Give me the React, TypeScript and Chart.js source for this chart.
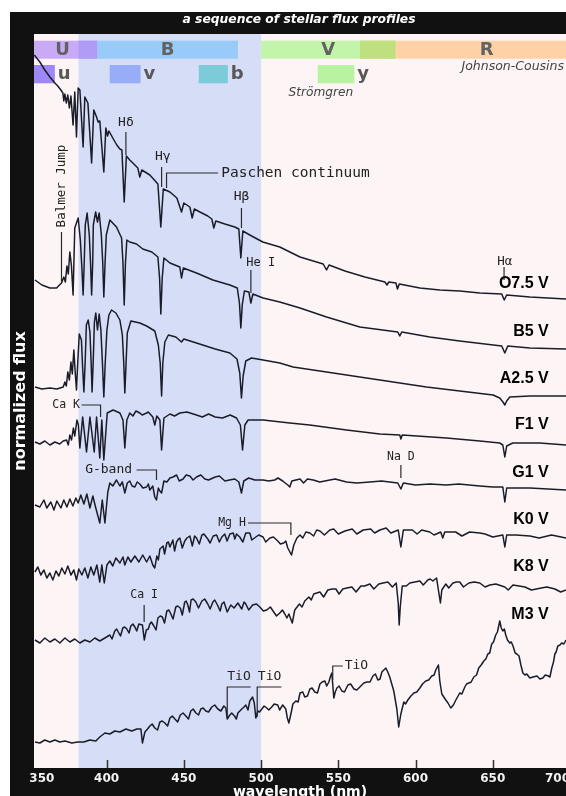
import React, { useEffect, useRef } from "react";
import { Chart, registerables } from "chart.js";

Chart.register(...registerables);

type Pt = [number, number];

// ---------------- data ----------------
const X_TICKS = [350, 400, 450, 500, 550, 600, 650, 700];
const STAR_NAMES = ["O7.5 V", "B5 V", "A2.5 V", "F1 V", "G1 V", "K0 V", "K8 V", "M3 V"];
const STAR_LABEL_LEVEL = [48.4, 43.6, 38.9, 34.3, 29.5, 24.8, 20.1, 15.3];

const O75_V: Pt[] = [
  [353.2, 71.3], [356.8, 70.6], [360, 69.8], [363.3, 69.1], [366.5, 68.5], [368.4, 68.2], [370.4, 67.8],
  [371.7, 67.5], [372.3, 66.7], [373, 67.4], [373.9, 66.5], [374.9, 67.3], [375.9, 66.0], [376.9, 67.2],
  [378.3, 64.3], [379.4, 67.6], [380.5, 63.1], [381.6, 68.0], [382.7, 67.8], [384.8, 62.1], [385.9, 67.1],
  [387.9, 66.5], [390.3, 60.5], [391.7, 65.8], [393.5, 65.1], [394.5, 64.6], [395.6, 64.7], [398.2, 59.6],
  [399.5, 64.0], [400.6, 63.2], [401.5, 63.7], [404, 63.0], [406.6, 62.3], [408.6, 61.9], [409.9, 61.8],
  [411.4, 56.6], [412.8, 61.2], [415, 60.8], [418.3, 60.3], [420.2, 60.0], [421.5, 59.1], [422.8, 59.8],
  [428, 59.3], [433.2, 58.4], [435.1, 54.1], [436.7, 57.9], [441, 57.6], [445.5, 57.0], [448.5, 55.6],
  [450, 56.5], [453.9, 56.1], [455.4, 55.0], [456.8, 55.9], [460.4, 55.6], [465.5, 55.2], [468.1, 54.9],
  [469.4, 54.0], [470.7, 54.7], [476.6, 54.4], [483, 54.1], [485.6, 53.9], [486.9, 51.0], [488.2, 53.7],
  [492.7, 53.3], [501.1, 52.6], [512.1, 52.1], [525.2, 51.1], [540.2, 50.4], [542.4, 49.8], [544, 50.3],
  [554.3, 49.7], [567.2, 49.1], [580.2, 48.6], [581.5, 48.3], [582.7, 48.6], [587.3, 48.5], [588.3, 47.9],
  [589.5, 48.4], [602.8, 48.0], [615.7, 47.8], [628.6, 47.7], [641.6, 47.5], [655.8, 47.4], [657.4, 46.8],
  [659, 47.3], [674, 47.1], [697.4, 46.9],
];

const B5_V: Pt[] = [
  [353.6, 48.8], [358.1, 48.3], [363.3, 48.0], [367.6, 48.0], [370.8, 48.5], [372.3, 49.1], [373.3, 48.6],
  [374.3, 50.2], [375.2, 49.4], [376.2, 51.6], [377.2, 50.3], [378.3, 47.3], [379.4, 54.0], [381.6, 55.0],
  [383, 52.8], [384, 50.0], [384.8, 47.3], [385.5, 50.5], [386.2, 54.3], [387.4, 55.5], [388.8, 53.3], [389.6, 50.5],
  [390.3, 47.3], [391, 50.5], [391.4, 54.3], [392.9, 55.6], [394.1, 54.6], [395.2, 55.5], [396.6, 53.3], [397.5, 50.5],
  [398.2, 47.1], [399, 50.5], [399.8, 53.3], [402.1, 54.8], [406.4, 54.1], [409.7, 53.0], [410.6, 50.5],
  [411.4, 46.3], [412.2, 50.5], [413.1, 52.8], [415, 52.6], [419.4, 52.4], [423.4, 51.9], [429.3, 51.6],
  [433.2, 51.1], [434.3, 49.0], [435.1, 45.4], [436, 49.0], [437.1, 51.0], [441, 50.5], [447.4, 50.1],
  [448.5, 49.0], [449.7, 50.0], [458.2, 49.5], [468.8, 48.8], [479.8, 48.3], [484.6, 48.0], [486, 46.5],
  [486.9, 44.0], [487.8, 46.3], [489.2, 47.7], [492.1, 47.6], [493.4, 46.5], [494.7, 47.4], [501.3, 47.0],
  [512.1, 46.6], [525.2, 46.0], [542.4, 45.1], [563.9, 44.1], [588.5, 43.6], [589.8, 43.2], [591.1, 43.6],
  [609.2, 43.1], [628.6, 42.7], [655.8, 42.2], [657.8, 41.5], [659.7, 42.2], [674, 42.0], [697.4, 41.9],
];

const A25_V: Pt[] = [
  [353.6, 38.1], [358.1, 37.9], [363.3, 38.0], [367.8, 37.9], [371.9, 38.1], [373, 38.6], [373.9, 38.2],
  [374.9, 39.6], [375.9, 38.8], [376.9, 40.6], [377.8, 39.4], [378.8, 41.8], [379.7, 39.5], [380.5, 37.8],
  [381.3, 40.5], [382.3, 43.4], [383.7, 42.8], [384.5, 40.0], [385.3, 37.6], [386.1, 40.5], [386.9, 44.3],
  [388.1, 44.8], [389.2, 43.6], [390, 40.5], [390.6, 37.6], [391.3, 40.5], [392.1, 44.6], [393, 45.5],
  [394.1, 43.8], [395.2, 45.4], [396.3, 43.8], [397.3, 40.5], [398.2, 37.1], [399.1, 40.5], [400.2, 43.8],
  [401.5, 45.3], [403.2, 45.8], [406, 45.5], [408.6, 44.8], [410.2, 43.3], [411.1, 40.5], [411.8, 37.5],
  [412.6, 40.5], [413.4, 43.5], [415.7, 44.7], [421.5, 44.5], [425.9, 44.2], [431.2, 43.7], [433.5, 42.3],
  [434.7, 40.5], [435.6, 37.2], [436.4, 40.5], [437.7, 42.6], [440, 43.3], [444.8, 43.1], [448.5, 42.6],
  [450, 42.9], [458.2, 42.5], [470.3, 41.9], [479.8, 41.5], [484.4, 40.9], [486.2, 39.5], [487.3, 37.0],
  [488.4, 39.2], [490.1, 40.7], [493.8, 41.0], [501.3, 40.8], [512.1, 40.5], [520.7, 40.1], [542.4, 39.6],
  [563.9, 39.1], [585.5, 38.6], [607.1, 38.1], [628.6, 37.7], [650.2, 37.3], [654.5, 37.0], [656.6, 36.6],
  [657.8, 36.3], [659, 36.7], [661, 37.1], [674, 37.2], [697.4, 37.2],
];

const F1_V: Pt[] = [
  [353.6, 32.6], [356.8, 32.4], [360, 32.7], [363.3, 32.3], [366.5, 32.6], [369.7, 32.4], [371.9, 32.7],
  [374.1, 32.8], [375.2, 32.3], [376.2, 33.3], [377.3, 32.8], [378.5, 34.0], [379.4, 33.2], [380.8, 34.8],
  [381.7, 34.3], [382.7, 32.0], [384.5, 35.1], [387.0, 31.6], [389.2, 35.1], [392, 31.6], [393.5, 35.1],
  [395.6, 31.0], [396.9, 34.8], [398.2, 30.8], [400.4, 35.5], [404.2, 35.8], [408.6, 35.5], [410.6, 34.8],
  [411.8, 32.0], [413.1, 34.8], [415, 35.5], [417, 35.2], [419, 35.7], [421.5, 35.5], [423, 35.3], [425.9, 35.5],
  [427, 35.6], [429.9, 35.1], [431.2, 34.3], [432.5, 35.2], [434.5, 34.8], [435.6, 31.8], [437.1, 35.0],
  [441, 35.4], [444, 35.2], [447.4, 35.5], [452, 35.6], [458.2, 35.3], [462, 35.1], [466, 35.4], [470.3, 35.1],
  [475, 35.0], [480, 35.3], [484.1, 35.0], [486.6, 34.3], [488, 31.8], [489.5, 34.3], [491.6, 34.8],
  [501.3, 34.8], [518.6, 34.5], [531.5, 34.3], [555.3, 33.8], [576.9, 33.4], [589.8, 33.3], [590.5, 32.9],
  [591.4, 33.3], [620, 33.0], [641.6, 32.7], [654.5, 32.5], [656.5, 32.3], [657.8, 31.1], [659, 32.2],
  [662.9, 32.5], [680.4, 32.5], [697.4, 32.3],
];

const G1_V: Pt[] = [
  [353.6, 26.3], [356.8, 26.1], [359.4, 26.8], [361.3, 26.0], [363.9, 26.6], [365.9, 25.8], [367.8, 26.7],
  [370.4, 26.0], [372.3, 26.8], [374.3, 26.1], [376.2, 26.9], [378.2, 26.2], [380.1, 27.0], [381.6, 26.5],
  [383.3, 27.3], [385.3, 26.4], [387.2, 27.4], [389.2, 26.0], [391.1, 27.2], [393, 26.0], [395.6, 24.5],
  [397.2, 26.8], [398.9, 24.5], [400.8, 27.6], [402.1, 28.5], [404, 28.2], [406.4, 28.8], [408.6, 28.2],
  [410.2, 28.6], [411.8, 27.5], [413.4, 28.5], [415, 28.7], [416.5, 28.2], [418.3, 28.1], [419.8, 28.6],
  [421.5, 28.4], [423.5, 28.0], [425.9, 28.1], [427, 28.4], [428, 27.8], [429.9, 28.2], [431.2, 27.1],
  [432.3, 26.8], [433.5, 28.0], [434.5, 27.7], [435.6, 27.5], [437.1, 28.7], [439, 28.6], [441, 29.0],
  [443, 29.1], [445.3, 29.3], [447, 28.7], [449.5, 28.9], [451.5, 29.3], [453.9, 29.2], [456, 28.8],
  [458.2, 29.1], [461, 29.3], [463.6, 28.9], [466, 28.8], [470.3, 29.1], [473, 29.2], [476.6, 28.7],
  [479.5, 28.8], [483, 28.9], [485.6, 28.6], [487.3, 27.5], [488.8, 28.7], [492, 29.0], [496, 28.8],
  [501.3, 28.8], [505, 28.7], [508.8, 28.8], [511, 29.0], [514, 28.7], [517.3, 28.3], [518.6, 28.1],
  [519.9, 28.7], [525.2, 28.9], [533.8, 28.8], [544.5, 28.8], [555.3, 28.6], [570.4, 28.6], [588.5, 28.5],
  [590.5, 27.9], [592.1, 28.5], [609.2, 28.4], [620, 28.3], [641.6, 28.2], [656.5, 28.1], [657.8, 26.6],
  [659, 28.0], [674, 28.0], [697.4, 27.8],
  [527.5, 28.5], [530, 28.9], [538, 28.6], [548, 28.9], [562, 28.5], [578, 28.7], [600, 28.3], [628, 28.4], [650, 28.1],
];

const K0_V: Pt[] = [
  [353.6, 19.6], [355.5, 20.1], [357.4, 19.3], [359.4, 19.8], [361.3, 19.0], [363.3, 19.5], [365.2, 18.8],
  [367.2, 19.7], [369.1, 19.2], [371.0, 20.0], [373, 19.4], [374.9, 20.2], [376.9, 19.3], [378.8, 19.8],
  [380.5, 18.8], [382, 19.9], [384, 19.3], [385.9, 20.0], [387.9, 19.0], [389.8, 20.1], [391.7, 19.3],
  [393.7, 20.3], [395.6, 18.6], [396.9, 20.3], [398.5, 18.5], [400.2, 20.3], [402.1, 20.7], [404, 20.2],
  [406, 21.0], [408.6, 20.5], [410.6, 21.1], [411.8, 20.3], [413.8, 21.1], [415.7, 20.6], [418.3, 21.2],
  [420.9, 20.6], [423.4, 21.3], [425.9, 20.6], [428, 21.2], [429.9, 20.3], [431.2, 20.0], [432.5, 21.2],
  [434.5, 21.9], [436.6, 22.2], [439, 22.5], [441, 22.1], [442.9, 22.8], [445.3, 22.6], [447.4, 23.0],
  [450.6, 22.7], [453.9, 23.2], [458.2, 23.0], [461.7, 23.3], [465.5, 22.9], [471.2, 23.3], [474.6, 23.1],
  [479.8, 23.4], [484.1, 23.4], [486.2, 23.1], [488.2, 22.6], [490.1, 23.5], [492.7, 23.5], [496.6, 23.1],
  [501.3, 23.1], [505.7, 23.0], [510.8, 22.7], [514.7, 22.5], [517.3, 22.0], [519.7, 21.3], [521.2, 22.3],
  [523.2, 23.0], [525.2, 23.3], [531.6, 23.5], [538.1, 23.7], [544.5, 23.8], [554.3, 23.7], [566.1, 23.8],
  [576.9, 23.8], [588.8, 23.8], [590.5, 22.1], [592.1, 23.8], [609.2, 23.6], [616.3, 23.6], [617.6, 23.0],
  [618.9, 23.6], [641.6, 23.5], [656.5, 23.3], [657.8, 22.1], [659, 23.3], [674, 23.2], [697.4, 23.0],
  [433.5, 20.8], [437.5, 21.4], [440, 22.6], [444, 21.7], [446.5, 22.9], [449, 22.0], [452, 23.0], [455.5, 22.2],
  [457, 23.2], [460, 22.4], [463, 23.4], [467, 22.5], [469, 23.2], [473, 22.6], [476.5, 23.4], [478, 22.7],
  [482, 23.5], [483, 22.9], [494, 22.8], [498.5, 23.3], [503, 22.6], [508, 23.1], [512.5, 22.4], [516, 22.7],
  [527, 23.0], [529, 23.6], [534, 23.2], [536, 23.8], [541, 23.3], [547, 23.9], [550, 23.4], [559, 23.9],
  [562, 23.4], [571, 23.9], [573.5, 23.5], [581, 24.0], [584, 23.5], [598, 23.8], [601, 23.4], [604, 23.8],
  [612, 23.3], [626, 23.6], [630, 23.2], [635, 23.6], [645, 23.4], [650, 23.1], [665, 23.3], [680, 23.0], [688, 23.3],
];

const K8_V: Pt[] = [
  [353.6, 12.8], [356.8, 12.5], [360, 13.0], [363.3, 12.6], [366.5, 12.9], [369.7, 12.5], [373, 13.0],
  [376.2, 12.6], [379.4, 12.9], [382.7, 12.5], [385.9, 12.8], [389.2, 12.6], [392.4, 13.0], [395.6, 12.7],
  [398.9, 13.0], [402.1, 13.3], [405.3, 13.7], [407.9, 13.5], [410.5, 14.0], [413.1, 13.9], [415.7, 14.2],
  [418.3, 14.1], [420.9, 14.4], [423.2, 14.3], [424.4, 12.8], [425.7, 13.8], [428, 14.4], [430.6, 14.2],
  [433.2, 15.0], [436.1, 15.1], [439, 15.7], [441.6, 15.4], [444.8, 16.1], [447.7, 16.0], [450.6, 16.6],
  [452.6, 16.3], [454.7, 16.8], [457.8, 16.6], [461.7, 16.7], [465.5, 16.4], [468.8, 16.6], [472.1, 16.2],
  [474.6, 16.4], [478.1, 15.6], [480.4, 16.3], [485, 16.5], [487.5, 15.9], [490.1, 16.4], [494.5, 16.3],
  [499.2, 16.1], [503.7, 15.8], [508.2, 15.6], [512.1, 15.5], [515.4, 15.4], [518, 15.4], [520.2, 14.5],
  [521.8, 15.8], [524.8, 16.4], [528.3, 16.7], [530.9, 17.1], [534.1, 17.4], [538.1, 17.6], [543.2, 17.8],
  [548.4, 17.9], [552.9, 17.9], [558.8, 18.1], [564.6, 18.2], [570.4, 18.4], [576.2, 18.4], [582.1, 18.6],
  [587.5, 18.5], [588.8, 16.5], [589.4, 14.3], [590.1, 16.1], [591.4, 18.2], [596.3, 18.5], [602.8, 18.7],
  [607.9, 18.8], [611.2, 18.7], [613.6, 19.0], [615.1, 17.5], [616.1, 16.5], [617.0, 17.8], [619.6, 18.4],
  [624.2, 18.5], [628.6, 18.6], [634.5, 18.5], [641.6, 18.5], [648.1, 18.3], [657.8, 18.1], [663.1, 18.3],
  [670.8, 18.1], [681.4, 18.0], [690.2, 17.9], [697.4, 17.8],
  [403.5, 12.9], [406.5, 13.9], [409, 13.2], [411.7, 14.1], [414.5, 13.5], [417, 14.4], [419.5, 13.7],
  [427, 13.9], [429, 14.6], [432, 13.8], [434.7, 15.2], [437.5, 14.5], [440.3, 15.8], [443, 14.9], [446, 16.2],
  [449, 15.3], [451.5, 16.7], [453.7, 15.6], [456, 16.9], [459.5, 16.0], [463.5, 16.9], [467, 15.9], [470, 16.8],
  [473.5, 15.7], [476, 16.6], [482.5, 16.0], [489, 16.6], [492, 15.8], [497, 16.4], [501.5, 15.7], [506, 16.1],
  [510, 15.2], [513.8, 15.8], [516.7, 15.0], [526.5, 16.1], [532.5, 16.8], [536, 17.5], [540.5, 17.1],
  [546, 17.9], [550.5, 17.4], [555.5, 18.0], [561.5, 17.6], [567, 18.2], [573, 17.9], [579, 18.5], [585, 18.1],
  [594, 18.2], [599.5, 18.6], [605, 18.3], [609.5, 18.9], [621.5, 18.0], [626.5, 18.6], [631, 18.1],
  [638, 18.6], [645, 18.1], [652, 18.4], [660, 17.8], [667, 18.2], [675, 17.8], [685, 18.1], [694, 17.6],
];

const M3_V: Pt[] = [
  [353.6, 2.6], [356.8, 2.5], [360, 2.8], [363.3, 2.6], [366.5, 2.8], [369.7, 2.6], [373, 2.7], [377.5, 2.5],
  [381.4, 2.6], [385.3, 2.6], [389.2, 2.8], [393, 2.7], [395.6, 3.1], [398.9, 3.5], [402.1, 3.4], [405.3, 3.7],
  [408.6, 3.6], [412.5, 3.9], [416.3, 3.7], [419.6, 3.9], [422.2, 3.9], [423.2, 2.5], [424.8, 3.6], [428, 4.2],
  [431.2, 4.0], [434.5, 4.6], [437.7, 4.5], [441, 5.0], [444.2, 4.9], [447.7, 5.3], [451.3, 5.2], [454.5, 5.7],
  [457.8, 5.5], [461, 5.9], [464.2, 5.7], [468.1, 6.1], [472, 5.9], [475.9, 6.2], [477.2, 6.0], [478.1, 4.9],
  [479.8, 5.3], [482.8, 5.2], [485, 5.5], [487.5, 5.9], [490.1, 6.3], [492.7, 6.7], [494.5, 7.1], [495.6, 6.5],
  [496.6, 5.0], [497.9, 5.7], [500.5, 5.9], [503.7, 6.0], [506.9, 6.1], [510.8, 6.3], [514, 6.3], [516, 5.9],
  [518, 4.5], [519.3, 5.4], [520.6, 6.4], [522.5, 6.7], [525.2, 7.5], [528.3, 7.1], [531.6, 7.9], [534.8, 7.6],
  [538.1, 8.4], [541.3, 8.7], [543.9, 8.6], [545.8, 9.5], [547.1, 7.0], [549.1, 8.0], [552.3, 7.7], [556.2, 8.3],
  [560.1, 7.9], [564.6, 8.2], [568.5, 8.6], [572.4, 9.2], [575.6, 8.8], [578.2, 9.6], [580.8, 10.0], [583.3, 9.1],
  [585.9, 7.7], [587.9, 5.9], [589.1, 4.1], [590.5, 5.4], [592.4, 6.6], [595, 6.8], [598.9, 7.5], [602.8, 8.0],
  [606.6, 8.7], [610.5, 9.2], [613.1, 9.8], [614.8, 10.3], [615.7, 8.7], [617, 7.4], [619.6, 6.8], [622.8, 6.0],
  [626.1, 6.8], [628.6, 7.5], [631.9, 8.1], [634.5, 8.5], [637.7, 9.1], [640.9, 10.0], [644.2, 10.7],
  [646.8, 11.4], [649.3, 12.4], [651.9, 13.3], [654.5, 14.7], [656.5, 13.7], [658.4, 13.3], [661, 12.5],
  [663.1, 12.2], [665.6, 11.4], [668.2, 10.3], [670.8, 9.3], [674, 9.0], [678.6, 9.2], [682.4, 9.0], [686, 9.2],
  [688.2, 10.0], [690.2, 11.4], [692.1, 12.2], [694.6, 12.5], [697.4, 12.8],
  [426.5, 3.9], [429.5, 4.4], [433, 3.8], [436, 4.7], [439.5, 4.2], [442.5, 5.2], [446, 4.6], [449.5, 5.5],
  [453, 4.9], [456, 5.9], [459.5, 5.3], [462.5, 6.0], [466, 5.6], [470, 6.3], [474, 5.7], [481, 5.5], [484, 4.9],
  [489, 6.1], [491.5, 5.8], [499, 5.6], [502, 6.2], [505, 5.8], [508.5, 6.4], [512, 5.8], [517, 5.0], [524, 6.6],
  [527, 7.6], [530, 7.2], [533, 8.0], [536.5, 7.5], [539.5, 8.6], [542.5, 8.2], [544.8, 9.1], [548, 7.6],
  [550.5, 8.2], [554, 7.6], [558, 8.4], [562, 7.8], [566.5, 8.5], [570.5, 8.6], [574, 9.4], [577, 8.9],
  [579.5, 9.8], [582, 9.6], [593.5, 6.4], [597, 7.2], [600.8, 7.6], [604.5, 8.4], [608.5, 8.8], [612, 9.3],
  [621, 6.5], [624.5, 6.3], [630, 7.4], [633, 8.4], [636, 8.6], [639.5, 9.3], [642.5, 10.3], [645.5, 10.9],
  [648, 11.5], [650.5, 12.6], [653, 13.6], [655.5, 14.0], [657.5, 13.9], [659.5, 12.8], [662, 12.6],
  [664.5, 11.5], [667, 11.2], [669.5, 9.5], [672, 9.4], [676, 9.1], [680.5, 8.9], [684, 9.3], [687, 9.1],
  [689.3, 10.6], [691, 11.6], [693.5, 12.3], [696, 12.4],
];

const SERIES: Pt[][] = [O75_V, B5_V, A25_V, F1_V, G1_V, K0_V, K8_V, M3_V];

// filter passbands (nm)
const SHADE_RANGE = [381.8, 500];
const JOHNSON_NAMES = ["U", "B", "R", "V"];
const JOHNSON_FROM = [353, 394, 564, 500];
const JOHNSON_TO = [394, 485, 700, 587];
const JOHNSON_LABEL_AT = [371.5, 439.5, 646, 543.5];
const STROMGREN_NAMES = ["u", "v", "b", "y"];
const STROMGREN_FROM = [353, 402, 459.7, 536.7];
const STROMGREN_TO = [366.5, 422, 478.5, 560.4];

// line identifications
type Ann = { text: string; at: Pt; path: Pt[]; size: number; align?: CanvasTextAlign; rotate?: boolean };
const ANNOTATIONS: Ann[] = [
  { text: "Hδ", at: [412.5, 64.5], path: [[412.5, 63.6], [412.5, 61.3]], size: 13 },
  { text: "Hγ", at: [436.4, 61.1], path: [[435.6, 60.1], [435.6, 58.1]], size: 13 },
  { text: "Paschen continuum", at: [474.2, 59.5], align: "left", path: [[472.2, 59.5], [438.8, 59.5], [438.8, 58.0]], size: 14.5 },
  { text: "Hβ", at: [487.3, 57.1], path: [[487.3, 56.0], [487.3, 54.0]], size: 13 },
  { text: "He I", at: [499.8, 50.5], path: [[493.4, 49.8], [493.4, 47.5]], size: 12 },
  { text: "Hα", at: [657.8, 50.6], path: [[657.3, 50.1], [657.3, 48.8]], size: 12.5 },
  { text: "Balmer Jump", at: [370.8, 58.2], rotate: true, path: [[370.8, 53.6], [370.8, 48.6]], size: 12.5 },
  { text: "Ca K", at: [373.8, 36.3], path: [[383.8, 36.3], [396.1, 36.3], [396.1, 35.1]], size: 11.5 },
  { text: "G-band", at: [401.3, 29.8], path: [[419.4, 29.8], [432.3, 29.8], [432.3, 28.8]], size: 13 },
  { text: "Na D", at: [590.5, 31.1], path: [[590.5, 30.3], [590.5, 29.0]], size: 11.5 },
  { text: "Mg H", at: [481.2, 24.5], path: [[491.6, 24.5], [519.3, 24.5], [519.3, 23.3]], size: 11.5 },
  { text: "Ca I", at: [424.3, 17.3], path: [[424.3, 16.3], [424.3, 14.6]], size: 11.5 },
  { text: "TiO", at: [485.7, 9.1], path: [[493.3, 8.1], [478.1, 8.1], [478.1, 5.0]], size: 13 },
  { text: "TiO", at: [505.5, 9.1], path: [[513.2, 8.1], [497.5, 8.1], [497.5, 5.1]], size: 13 },
  { text: "TiO", at: [554.1, 10.2], align: "left", path: [[552.9, 10.2], [546.4, 10.2], [546.4, 8.8]], size: 13 },
];

// ---------------- style ----------------
const PLOT_BG = "#fdf5f5";
const SHADE_COLOR = "#d6ddf6";
const JOHNSON_COLORS = ["#c9aaf7", "#98cbf8", "#ffd1a6", "#c2f5aa"];
const U_ON_SHADE = "#b09bf7";
const V_R_OVERLAP = "#c0df7e";
const STROMGREN_COLORS = ["#9f87f7", "#98adf7", "#7ccbd9", "#b9f3a2"];
const JOHNSON_ROW = [72.73, 70.93];
const STROMGREN_ROW = [70.3, 68.47];
const LINE_COLOR = "#1a1d29";
const STAR_LABEL_RIGHT = 686.2;
const SANS = "'DejaVu Sans', Verdana, sans-serif";
const MONO = "'DejaVu Sans Mono', monospace";

const decorPlugin = {
  id: "decor",
  beforeDatasetsDraw(chart: any) {
    const { ctx, chartArea: a, scales } = chart;
    const x = scales.x, y = scales.y;
    ctx.save();
    ctx.beginPath();
    ctx.rect(a.left, a.top, a.right - a.left, a.bottom - a.top);
    ctx.clip();
    ctx.fillStyle = PLOT_BG;
    ctx.fillRect(a.left, a.top, a.right - a.left, a.bottom - a.top);
    const s1 = x.getPixelForValue(SHADE_RANGE[0]);
    const s2 = x.getPixelForValue(SHADE_RANGE[1]);
    ctx.fillStyle = SHADE_COLOR;
    ctx.fillRect(s1, a.top, s2 - s1, a.bottom - a.top);

    const jt = y.getPixelForValue(JOHNSON_ROW[0]), jb = y.getPixelForValue(JOHNSON_ROW[1]);
    const band = (from: number, to: number, top: number, bot: number, color: string) => {
      if (to <= from) return;
      const x1 = x.getPixelForValue(from), x2 = x.getPixelForValue(to);
      ctx.fillStyle = color;
      ctx.fillRect(x1, top, x2 - x1, bot - top);
    };
    JOHNSON_NAMES.forEach((_, i) => band(JOHNSON_FROM[i], JOHNSON_TO[i], jt, jb, JOHNSON_COLORS[i]));
    // U where it lies over the shaded region
    band(Math.max(JOHNSON_FROM[0], SHADE_RANGE[0]), Math.min(JOHNSON_TO[0], SHADE_RANGE[1]), jt, jb, U_ON_SHADE);
    // V and R overlap
    band(Math.max(JOHNSON_FROM[2], JOHNSON_FROM[3]), Math.min(JOHNSON_TO[2], JOHNSON_TO[3]), jt, jb, V_R_OVERLAP);

    const st = y.getPixelForValue(STROMGREN_ROW[0]), sb = y.getPixelForValue(STROMGREN_ROW[1]);
    STROMGREN_NAMES.forEach((_, i) => band(STROMGREN_FROM[i], STROMGREN_TO[i], st, sb, STROMGREN_COLORS[i]));

    ctx.textBaseline = "middle";
    ctx.font = `bold 18px ${SANS}`;
    ctx.fillStyle = "#626262";
    ctx.textAlign = "center";
    JOHNSON_NAMES.forEach((n, i) => {
      ctx.fillText(n, x.getPixelForValue(JOHNSON_LABEL_AT[i]), (jt + jb) / 2 + 1);
    });
    ctx.textAlign = "left";
    ctx.fillStyle = "#585858";
    STROMGREN_NAMES.forEach((n, i) => {
      ctx.fillText(n, x.getPixelForValue(STROMGREN_TO[i]) + 3, (st + sb) / 2);
    });
    ctx.fillStyle = "#444";
    ctx.font = `italic 12.5px ${SANS}`;
    ctx.textAlign = "right";
    ctx.fillText("Johnson-Cousins", a.right - 2, y.getPixelForValue(70.1));
    ctx.textAlign = "center";
    ctx.font = `italic 12.2px ${SANS}`;
    ctx.fillText("Strömgren", x.getPixelForValue(538.7), y.getPixelForValue(67.55));
    ctx.restore();
  },
  afterDatasetsDraw(chart: any) {
    const { ctx, chartArea: a, scales } = chart;
    const x = scales.x, y = scales.y;
    ctx.save();
    // inward tick marks
    ctx.strokeStyle = "#333";
    ctx.lineWidth = 1.5;
    ctx.beginPath();
    x.ticks.forEach((t: any) => {
      if (t.value > x.min && t.value < x.max) {
        const px = Math.round(x.getPixelForValue(t.value)) + 0.5;
        ctx.moveTo(px, a.bottom);
        ctx.lineTo(px, a.bottom - 8);
      }
    });
    ctx.stroke();

    // annotations
    ctx.strokeStyle = "#2a2a2a";
    ctx.fillStyle = "#222";
    ctx.lineWidth = 1.2;
    ANNOTATIONS.forEach((an) => {
      ctx.beginPath();
      an.path.forEach(([vx, vy], i) => {
        const px = x.getPixelForValue(vx), py = y.getPixelForValue(vy);
        if (i === 0) ctx.moveTo(px, py);
        else ctx.lineTo(px, py);
      });
      ctx.stroke();
      ctx.font = `${an.size}px ${MONO}`;
      ctx.textBaseline = "middle";
      const tx = x.getPixelForValue(an.at[0]), ty = y.getPixelForValue(an.at[1]);
      if (an.rotate) {
        ctx.save();
        ctx.translate(tx, ty);
        ctx.rotate(-Math.PI / 2);
        ctx.textAlign = "center";
        ctx.fillText(an.text, 0, 0);
        ctx.restore();
      } else {
        ctx.textAlign = an.align || "center";
        ctx.fillText(an.text, tx, ty);
      }
    });

    // star labels
    ctx.fillStyle = "#000";
    ctx.font = `bold 16px 'Liberation Sans', Arial, sans-serif`;
    ctx.textAlign = "right";
    ctx.textBaseline = "middle";
    STAR_NAMES.forEach((n, i) => {
      ctx.fillText(n, x.getPixelForValue(STAR_LABEL_RIGHT), y.getPixelForValue(STAR_LABEL_LEVEL[i]));
    });

    // figure title
    ctx.fillStyle = "#fff";
    ctx.font = `italic bold 12.3px ${SANS}`;
    ctx.textAlign = "center";
    ctx.fillText("a sequence of stellar flux profiles", (a.left + a.right) / 2 - 1, a.top - 14.5);
    ctx.restore();
  },
};

export default function App() {
  const ref = useRef<HTMLCanvasElement | null>(null);
  useEffect(() => {
    if (!ref.current) return;
    const chart = new Chart(ref.current, {
      type: "line",
      data: {
        datasets: SERIES.map((s, i) => ({
          label: STAR_NAMES[i],
          data: s.slice().sort((p, q) => p[0] - q[0]).map(([vx, vy]) => ({ x: vx, y: vy })),
          borderColor: LINE_COLOR,
          borderWidth: 1.5,
          borderJoinStyle: "round" as const,
          pointRadius: 0,
          tension: 0,
          fill: false,
        })),
      },
      options: {
        animation: false,
        responsive: false,
        devicePixelRatio: 1,
        layout: { padding: { top: 22, right: 34, left: 0, bottom: 0 } },
        plugins: { legend: { display: false }, title: { display: false }, tooltip: { enabled: false } },
        scales: {
          x: {
            type: "linear",
            min: 353,
            max: 697.4,
            afterBuildTicks: (axis: any) => {
              axis.ticks = X_TICKS.map((v) => ({ value: v }));
            },
            afterFit: (axis: any) => {
              axis.height = 44;
            },
            grid: { display: false, drawTicks: false },
            border: { display: false },
            ticks: {
              color: "#f2f2f2",
              font: { family: SANS, size: 12, weight: "bold" },
              padding: 4,
              maxRotation: 0,
              autoSkip: false,
              align: "inner",
            },
            title: {
              display: true,
              text: "wavelength (nm)",
              color: "#fff",
              font: { family: SANS, size: 14, weight: "bold" },
              padding: { top: 0, bottom: 11 },
            },
          },
          y: {
            min: 0,
            max: 73.4,
            afterFit: (axis: any) => {
              axis.width = 24;
            },
            grid: { display: false, drawTicks: false },
            border: { display: false },
            ticks: { display: false },
            title: {
              display: true,
              text: "normalized flux",
              color: "#fff",
              font: { family: SANS, size: 16, weight: "bold" },
              padding: { top: 1, bottom: 0 },
            },
          },
        },
      },
      plugins: [decorPlugin],
    } as any);
    return () => chart.destroy();
  }, []);

  return (
    <div style={{ position: "fixed", left: 0, top: 0, width: 566, height: 796, overflow: "hidden", background: "#fff" }}>
      <div style={{ position: "absolute", left: 10, top: 12, width: 600, height: 800, background: "#111" }}>
        <canvas ref={ref} width={590} height={800} style={{ display: "block", width: 590, height: 800 }} />
      </div>
    </div>
  );
}
